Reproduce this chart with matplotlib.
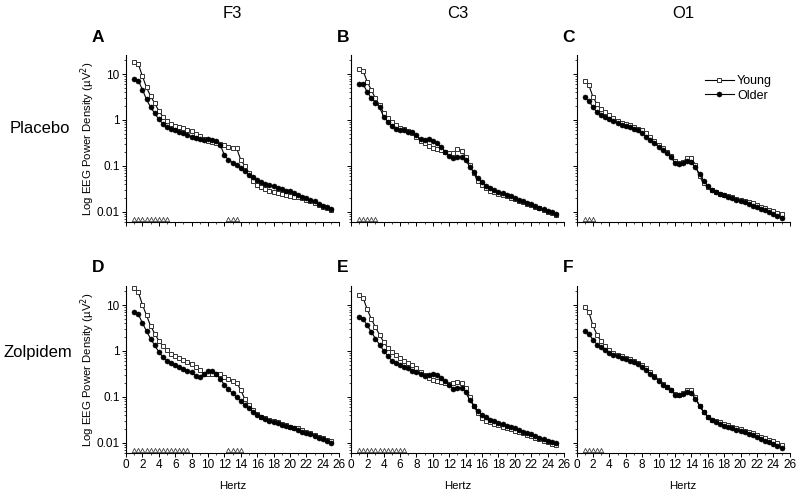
import numpy as np
import matplotlib
matplotlib.use("Agg")
import matplotlib.pyplot as plt
from matplotlib.ticker import FixedLocator, MultipleLocator, LogLocator, NullFormatter

plt.rcParams["font.family"] = ["Liberation Sans", "DejaVu Sans"]

# ==========================================================
# DATA  (power density, µV², 0.5 Hz bins from 1 to 25 Hz)
# ==========================================================
hz = np.arange(1, 25.5, 0.5)

columns = ["F3", "C3", "O1"]
rows = ["Placebo", "Zolpidem"]
letters = ["A", "B", "C", "D", "E", "F"]

young_A = [18.5, 16.5, 9.0, 5.1, 3.3, 2.3, 1.58, 1.18, 0.97, 0.82, 0.75, 0.70, 0.66,
           0.62, 0.57, 0.50, 0.44, 0.39, 0.355, 0.33, 0.31, 0.30, 0.28, 0.26, 0.245,
           0.24, 0.135, 0.10, 0.07, 0.046, 0.039, 0.034, 0.031, 0.029, 0.027, 0.026,
           0.0245, 0.0235, 0.0225, 0.0215, 0.0205, 0.0195, 0.018, 0.017, 0.0155,
           0.014, 0.013, 0.012, 0.011]
older_A = [7.8, 7.2, 4.6, 2.8, 1.9, 1.4, 1.03, 0.82, 0.69, 0.63, 0.59, 0.55, 0.51,
           0.47, 0.43, 0.41, 0.38, 0.37, 0.38, 0.37, 0.34, 0.29, 0.17, 0.135, 0.118,
           0.105, 0.089, 0.076, 0.063, 0.056, 0.05, 0.045, 0.041, 0.038, 0.036, 0.033,
           0.031, 0.029, 0.028, 0.0255, 0.0235, 0.0215, 0.02, 0.018, 0.0168, 0.015,
           0.0135, 0.0126, 0.0118]

young_B = [12.9, 11.8, 6.8, 4.5, 2.96, 2.12, 1.44, 1.09, 0.91, 0.76, 0.67, 0.63, 0.58,
           0.51, 0.43, 0.355, 0.31, 0.27, 0.245, 0.23, 0.22, 0.205, 0.19, 0.19, 0.23,
           0.215, 0.16, 0.105, 0.069, 0.046, 0.039, 0.033, 0.029, 0.027, 0.0246,
           0.023, 0.0216, 0.020, 0.019, 0.0174, 0.0162, 0.015, 0.014, 0.013, 0.0122,
           0.011, 0.010, 0.0094, 0.0085]
older_B = [6.0, 6.0, 4.1, 2.96, 2.4, 1.9, 1.18, 0.92, 0.74, 0.65, 0.61, 0.59, 0.56,
           0.54, 0.46, 0.38, 0.37, 0.38, 0.355, 0.31, 0.26, 0.205, 0.165, 0.147, 0.154,
           0.154, 0.135, 0.097, 0.073, 0.054, 0.044, 0.037, 0.033, 0.030, 0.0276,
           0.0255, 0.023, 0.0216, 0.020, 0.0182, 0.017, 0.0157, 0.0147, 0.0135,
           0.0124, 0.0114, 0.0105, 0.0097, 0.0088]

young_C = [7.1, 5.8, 3.2, 2.2, 1.7, 1.47, 1.29, 1.09, 0.97, 0.87, 0.82, 0.76, 0.72,
           0.65, 0.61, 0.51, 0.42, 0.345, 0.28, 0.24, 0.20, 0.165, 0.13, 0.115, 0.124,
           0.149, 0.149, 0.105, 0.059, 0.042, 0.034, 0.030, 0.027, 0.0246, 0.023,
           0.0216, 0.0205, 0.0192, 0.0182, 0.017, 0.0162, 0.0152, 0.014, 0.013,
           0.0122, 0.0112, 0.0103, 0.0095, 0.0088]
older_C = [3.1, 2.6, 1.9, 1.47, 1.29, 1.18, 1.05, 0.95, 0.85, 0.78, 0.74, 0.69, 0.65,
           0.59, 0.51, 0.43, 0.37, 0.31, 0.26, 0.22, 0.19, 0.154, 0.118, 0.11, 0.118,
           0.13, 0.12, 0.093, 0.067, 0.048, 0.036, 0.030, 0.027, 0.0246, 0.0227,
           0.021, 0.0195, 0.0182, 0.017, 0.016, 0.0149, 0.0137, 0.0128, 0.0118,
           0.0109, 0.010, 0.0091, 0.0083, 0.0074]

young_D = [23.4, 19.2, 10.2, 6.0, 3.5, 2.4, 1.66, 1.29, 1.03, 0.87, 0.78, 0.71, 0.64,
           0.58, 0.52, 0.45, 0.39, 0.32, 0.31, 0.31, 0.32, 0.32, 0.27, 0.24, 0.22,
           0.205, 0.14, 0.089, 0.066, 0.051, 0.042, 0.037, 0.034, 0.0316, 0.0296,
           0.0277, 0.0263, 0.0242, 0.0226, 0.0215, 0.0205, 0.019, 0.0176, 0.0162,
           0.0149, 0.0137, 0.0128, 0.0118, 0.0112]
older_D = [7.1, 6.3, 4.1, 2.7, 1.86, 1.32, 0.96, 0.73, 0.62, 0.55, 0.49, 0.44, 0.40,
           0.37, 0.34, 0.287, 0.275, 0.316, 0.36, 0.36, 0.316, 0.24, 0.186, 0.146,
           0.12, 0.098, 0.081, 0.066, 0.056, 0.047, 0.041, 0.037, 0.033, 0.0306,
           0.0286, 0.0268, 0.025, 0.0234, 0.0219, 0.0205, 0.019, 0.0176, 0.0165,
           0.0152, 0.0142, 0.013, 0.012, 0.011, 0.0099]

young_E = [16.6, 14.4, 8.1, 5.0, 3.3, 2.26, 1.58, 1.17, 0.96, 0.81, 0.71, 0.62, 0.56,
           0.49, 0.42, 0.355, 0.30, 0.26, 0.235, 0.22, 0.21, 0.20, 0.195, 0.196, 0.21,
           0.205, 0.158, 0.10, 0.064, 0.044, 0.035, 0.0306, 0.028, 0.026, 0.0242,
           0.0226, 0.0212, 0.0198, 0.0185, 0.0174, 0.016, 0.0149, 0.014, 0.013,
           0.0122, 0.0112, 0.0105, 0.0095, 0.0088]
older_E = [5.5, 5.0, 3.6, 2.6, 1.86, 1.38, 1.02, 0.78, 0.62, 0.54, 0.49, 0.45, 0.42,
           0.37, 0.34, 0.31, 0.29, 0.30, 0.31, 0.30, 0.26, 0.22, 0.18, 0.15, 0.158,
           0.158, 0.128, 0.085, 0.064, 0.049, 0.041, 0.036, 0.032, 0.0296, 0.0272,
           0.0257, 0.0234, 0.0219, 0.0205, 0.0188, 0.0176, 0.0162, 0.0152, 0.0142,
           0.013, 0.0122, 0.0112, 0.0105, 0.010]

young_F = [8.9, 7.1, 3.6, 2.26, 1.62, 1.29, 1.03, 0.92, 0.83, 0.76, 0.71, 0.66, 0.62,
           0.56, 0.49, 0.42, 0.34, 0.28, 0.23, 0.19, 0.162, 0.138, 0.118, 0.112,
           0.124, 0.144, 0.142, 0.10, 0.064, 0.047, 0.037, 0.032, 0.0296, 0.0277,
           0.026, 0.0242, 0.0226, 0.0212, 0.0198, 0.0185, 0.0174, 0.016, 0.0149,
           0.0137, 0.0126, 0.0116, 0.0107, 0.0098, 0.009]
older_F = [2.7, 2.34, 1.77, 1.38, 1.2, 1.03, 0.92, 0.83, 0.76, 0.71, 0.66, 0.62, 0.58,
           0.52, 0.45, 0.38, 0.32, 0.275, 0.226, 0.186, 0.162, 0.138, 0.112, 0.109,
           0.118, 0.128, 0.12, 0.091, 0.064, 0.047, 0.037, 0.031, 0.028, 0.026,
           0.0238, 0.0219, 0.0205, 0.019, 0.018, 0.0168, 0.0155, 0.0145, 0.0135,
           0.0123, 0.0112, 0.0103, 0.0095, 0.0087, 0.0077]

# bins with significant age difference (open triangles)
sig_A = [1, 1.5, 2, 2.5, 3, 3.5, 4, 4.5, 5, 12.5, 13, 13.5]
sig_B = [1, 1.5, 2, 2.5, 3]
sig_C = [1, 1.5, 2]
sig_D = [1, 1.5, 2, 2.5, 3, 3.5, 4, 4.5, 5, 5.5, 6, 6.5, 7, 7.5, 12.5, 13, 13.5, 14]
sig_E = [1, 1.5, 2, 2.5, 3, 3.5, 4, 4.5, 5, 5.5, 6, 6.5]
sig_F = [1, 1.5, 2, 2.5, 3]

young = [young_A, young_B, young_C, young_D, young_E, young_F]
older = [older_A, older_B, older_C, older_D, older_E, older_F]
sig = [sig_A, sig_B, sig_C, sig_D, sig_E, sig_F]
sig_level = 0.0069

# ==========================================================
# LAYOUT (pixels on a 800x492 canvas)
# ==========================================================
W, H = 800, 492
col_left = [126, 350.8, 576.5]
ax_w = 213.2
row_top = [55, 286]
ax_h = 167

fig = plt.figure(figsize=(8, 4.92), dpi=100)

for i in range(6):
    r, c = divmod(i, 3)
    ax = fig.add_axes([col_left[c] / W, 1 - (row_top[r] + ax_h) / H, ax_w / W, ax_h / H])

    ax.plot(hz, young[i], color="black", lw=0.8, marker="s", ms=3.4,
            mfc="white", mec="#333333", mew=0.7, label="Young", zorder=3)
    ax.plot(hz, older[i], color="black", lw=0.8, marker="o", ms=3.6,
            mfc="black", mec="black", mew=0.4, label="Older", zorder=4)
    # one marker per call so neighbouring triangles keep their outlines
    for f in sig[i]:
        ax.plot([f], [sig_level], ls="none", marker="^", ms=3.1,
                mfc="white", mec="#333333", mew=0.55, zorder=5)

    ax.set_yscale("log")
    ax.set_ylim(0.006, 26)
    ax.set_xlim(0, 26)

    for side in ["top", "right"]:
        ax.spines[side].set_visible(False)
    for side in ["left", "bottom"]:
        ax.spines[side].set_linewidth(0.8)

    ax.xaxis.set_major_locator(MultipleLocator(2))
    ax.xaxis.set_minor_locator(MultipleLocator(1))
    ax.yaxis.set_major_locator(FixedLocator([0.01, 0.1, 1, 10]))
    ax.yaxis.set_minor_locator(LogLocator(base=10, subs=np.arange(2, 10)))
    ax.yaxis.set_minor_formatter(NullFormatter())
    ax.tick_params(which="major", length=3, width=0.7, labelsize=8.5, pad=1.5)
    ax.tick_params(which="minor", length=1.6, width=0.5)

    if c == 0:
        ax.set_yticklabels(["0.01", "0.1", "1", "10"])
        ax.set_ylabel("Log EEG Power Density (\u00b5V$^2$)", fontsize=8.2)
        ax.yaxis.set_label_coords(-0.135, 0.5)
    else:
        ax.set_yticklabels([])

    if r == 1:
        ax.set_xlabel("Hertz", fontsize=8.2)
        ax.xaxis.set_label_coords(0.5, -0.165)
    else:
        ax.set_xticklabels([])

    if i == 2:
        ax.legend(loc="upper left", bbox_to_anchor=(0.603, 0.878), frameon=False,
                  fontsize=9, handlelength=2.3, handletextpad=0.25,
                  labelspacing=0.2, borderpad=0, borderaxespad=0)

    # panel letter
    lx = 98 if c == 0 else col_left[c] - 8
    ly = 37 if r == 0 else 267
    fig.text(lx / W, 1 - ly / H, letters[i], fontsize=12.5, fontweight="bold",
             ha="center", va="center")

# column headers
for c, name in enumerate(columns):
    fig.text((col_left[c] + ax_w / 2) / W, 1 - 13 / H, name, fontsize=12,
             ha="center", va="center")

# row labels
fig.text(40 / W, 1 - 128 / H, rows[0], fontsize=12, ha="center", va="center")
fig.text(37.5 / W, 1 - 352 / H, rows[1], fontsize=12, ha="center", va="center")

fig.savefig("out.png", dpi=100)
